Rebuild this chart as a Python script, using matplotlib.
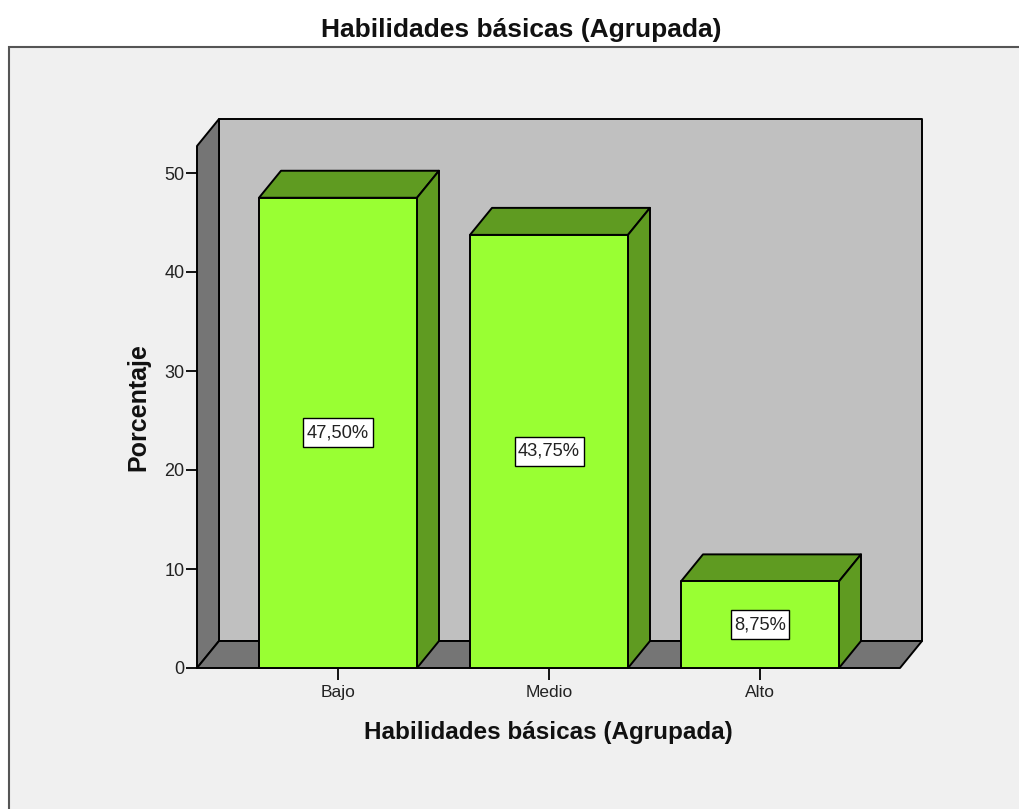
import matplotlib
matplotlib.use("Agg")
import matplotlib.pyplot as plt
from matplotlib.patches import Polygon, Rectangle
from matplotlib.path import Path

categories = ["Bajo", "Medio", "Alto"]
values = [47.5, 43.75, 8.75]
labels = ["47,50%", "43,75%", "8,75%"]
yticks = [0, 10, 20, 30, 40, 50]

W, H = 1019, 809
plt.rcParams["font.family"] = ["Liberation Sans", "DejaVu Sans"]

fig = plt.figure(figsize=(W / 100, H / 100), dpi=100, facecolor="white")

# grey panel, runs off the right and bottom edge
fig.add_artist(Rectangle((9 / W, -0.01), 1.02, (809 - 47) / H + 0.01, transform=fig.transFigure,
                         facecolor="#f0f0f0", edgecolor="#555555", linewidth=1.5, zorder=-1))

# axes box = front plane of the 3d chart, in pixels
left, right, top, bottom = 197, 900, 146, 668
ax = fig.add_axes([left / W, 1 - bottom / H, (right - left) / W, (bottom - top) / H])
ax.patch.set_visible(False)
for s in ax.spines.values():
    s.set_visible(False)

px_x = 211.0  # pixels per category
px_y = 9.9    # pixels per percent
ax.set_xlim((left - 338) / px_x, (right - 338) / px_x)
ax.set_ylim(0, (bottom - top) / px_y)

dx = 22 / px_x
dy = 27 / px_y
bw = 158 / px_x
x0, x1 = ax.get_xlim()
y1 = ax.get_ylim()[1]


def poly(pts, color, z):
    ax.add_patch(Polygon(pts, closed=True, facecolor=color, edgecolor="black", linewidth=1.4,
                         joinstyle="round", clip_on=False, zorder=z))


def label_box(x, y, w, h, size):
    # label boxes are taller than they are padded sideways
    px, py = 3.5, 6
    return Path([(x - px, y - py), (x + w + px, y - py), (x + w + px, y + h + py),
                 (x - px, y + h + py), (x - px, y - py)], closed=True)


# walls and floor
poly([(x0 + dx, dy), (x1 + dx, dy), (x1 + dx, y1 + dy), (x0 + dx, y1 + dy)], "#c0c0c0", 1)
poly([(x0, 0), (x0 + dx, dy), (x0 + dx, y1 + dy), (x0, y1)], "#757575", 1)
poly([(x0, 0), (x1, 0), (x1 + dx, dy), (x0 + dx, dy)], "#757575", 1)

# bars
for i, v in enumerate(values):
    a, b = i - bw / 2, i + bw / 2
    poly([(a, v), (b, v), (b + dx, v + dy), (a + dx, v + dy)], "#5f9b21", 3)
    poly([(b, 0), (b + dx, dy), (b + dx, v + dy), (b, v)], "#5f9b21", 3)
    poly([(a, 0), (b, 0), (b, v), (a, v)], "#99ff33", 4)
    ax.text(i, v / 2, labels[i], ha="center", va="center", fontsize=13.2, color="#222222", zorder=5,
            bbox=dict(boxstyle=label_box, facecolor="white", edgecolor="black", linewidth=1))

ax.set_xticks(range(len(categories)))
ax.set_xticklabels(categories)
ax.set_yticks(yticks)
ax.tick_params(axis="x", length=8.5, width=1.3, pad=4, labelsize=12.5, labelcolor="#222222")
ax.tick_params(axis="y", length=8, width=1.3, pad=1, labelsize=13, labelcolor="#222222")

fig.text(521 / W, 1 - 30 / H, "Habilidades básicas (Agrupada)", ha="center", va="center",
         fontsize=19, fontweight="bold", color="#111111")
fig.text(548 / W, 1 - 732 / H, "Habilidades básicas (Agrupada)", ha="center", va="center",
         fontsize=17.5, fontweight="bold", color="#111111")
fig.text(138 / W, 1 - 407 / H, "Porcentaje", ha="center", va="center", rotation=90,
         fontsize=18, fontweight="bold", color="#111111")

fig.savefig("out.png", dpi=100)
